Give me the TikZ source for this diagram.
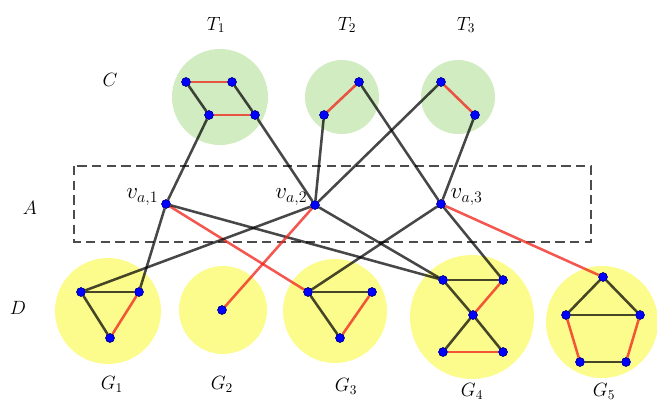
\documentclass[tikz,border=0pt]{standalone}
\definecolor{blobgreen}{RGB}{210,236,194}
\definecolor{blobyellow}{RGB}{252,252,140}
\definecolor{edgered}{RGB}{240,40,30}
\begin{document}
\begin{tikzpicture}[x=0.75pt,y=-0.75pt,
  vtx/.style={circle,fill=blue,draw=blue!50!black,line width=0.4pt,inner sep=0pt,minimum size=6.5pt},
  bedge/.style={draw=black,opacity=0.72,line width=1.9pt},
  redge/.style={draw=edgered,opacity=0.78,line width=1.9pt},
  lbl/.style={font=\Large},
  vlbl/.style={font=\LARGE},
  gblob/.style={fill=blobgreen,draw=none},
  yblob/.style={fill=blobyellow,draw=none}]
\useasboundingbox (0,0) rectangle (657,403);
% blobs
\fill[gblob] (220,97) circle (48);
\fill[gblob] (342,97) circle (37);
\fill[gblob] (458,97) circle (37);
\fill[yblob] (108,311) circle (53);
\fill[yblob] (223,310) circle (44);
\fill[yblob] (335,311) circle (52);
\fill[yblob] (472,317) circle (62);
\fill[yblob] (602,322) circle (56);
% dashed box
\draw[gray!60!black,line width=1.1pt,dash pattern=on 7pt off 4pt] (74,166) rectangle (591,242);
% vertices
\node[vtx] (t11) at (186,82) {};
\node[vtx] (t12) at (232,82) {};
\node[vtx] (t13) at (209,115) {};
\node[vtx] (t14) at (255,115) {};
\node[vtx] (t21) at (324,115) {};
\node[vtx] (t22) at (359,82) {};
\node[vtx] (t31) at (441,82) {};
\node[vtx] (t32) at (475,115) {};
\node[vtx] (va1) at (166,204) {};
\node[vtx] (va2) at (315,205) {};
\node[vtx] (va3) at (441,204) {};
\node[vtx] (g11) at (81,292) {};
\node[vtx] (g12) at (139,292) {};
\node[vtx] (g13) at (110,338) {};
\node[vtx] (g2) at (222,310) {};
\node[vtx] (g31) at (308,292) {};
\node[vtx] (g32) at (372,292) {};
\node[vtx] (g33) at (340,338) {};
\node[vtx] (g41) at (443,280) {};
\node[vtx] (g42) at (503,280) {};
\node[vtx] (g43) at (473,315) {};
\node[vtx] (g44) at (443,352) {};
\node[vtx] (g45) at (503,352) {};
\node[vtx] (g51) at (603,277) {};
\node[vtx] (g52) at (566,315) {};
\node[vtx] (g53) at (640,315) {};
\node[vtx] (g54) at (580,362) {};
\node[vtx] (g55) at (626,362) {};
% edges
\path[redge] (t11) -- (t12);
\path[redge] (t13) -- (t14);
\path[bedge] (t11) -- (t13);
\path[bedge] (t12) -- (t14);
\path[redge] (t21) -- (t22);
\path[redge] (t31) -- (t32);
\path[bedge] (t13) -- (va1);
\path[bedge] (t14) -- (va2);
\path[bedge] (t21) -- (va2);
\path[bedge] (t22) -- (va3);
\path[bedge] (t31) -- (va2);
\path[bedge] (t32) -- (va3);
\path[bedge] (va1) -- (g12);
\path[redge] (va1) -- (g31);
\path[bedge] (va1) -- (g41);
\path[bedge] (va2) -- (g11);
\path[redge] (va2) -- (g2);
\path[bedge] (va2) -- (g41);
\path[bedge] (va3) -- (g31);
\path[bedge] (va3) -- (g42);
\path[redge] (va3) -- (g51);
\path[bedge] (g11) -- (g12);
\path[bedge] (g11) -- (g13);
\path[redge] (g12) -- (g13);
\path[bedge] (g31) -- (g32);
\path[bedge] (g31) -- (g33);
\path[redge] (g32) -- (g33);
\path[bedge] (g41) -- (g42);
\path[bedge] (g41) -- (g43);
\path[redge] (g42) -- (g43);
\path[bedge] (g43) -- (g44);
\path[bedge] (g43) -- (g45);
\path[redge] (g44) -- (g45);
\path[bedge] (g51) -- (g52);
\path[bedge] (g51) -- (g53);
\path[bedge] (g52) -- (g53);
\path[redge] (g52) -- (g54);
\path[redge] (g53) -- (g55);
\path[bedge] (g54) -- (g55);
% redraw vertices on top
\foreach \v in {t11,t12,t13,t14,t21,t22,t31,t32,va1,va2,va3,g11,g12,g13,g2,g31,g32,g33,g41,g42,g43,g44,g45,g51,g52,g53,g54,g55}
  \node[vtx] at (\v) {};
% labels
\node[lbl] (lT1) at (216,25) {$T_1$};
\node[lbl] (lT2) at (347,25) {$T_2$};
\node[lbl] (lT3) at (466,25) {$T_3$};
\node[lbl] (lC) at (110,80) {$C$};
\node[lbl] (lA) at (30,208) {$A$};
\node[lbl] (lD) at (18,308) {$D$};
\node[vlbl,anchor=east] (lva1) at (163,197) {$v_{a,1}$};
\node[vlbl,anchor=east] (lva2) at (312,197) {$v_{a,2}$};
\node[vlbl,anchor=west] (lva3) at (446,197) {$v_{a,3}$};
\node[lbl] (lG1) at (112,384) {$G_1$};
\node[lbl] (lG2) at (222,384) {$G_2$};
\node[lbl] (lG3) at (346,386) {$G_3$};
\node[lbl] (lG4) at (472,391) {$G_4$};
\node[lbl] (lG5) at (604,391) {$G_5$};
\end{tikzpicture}
\end{document}
